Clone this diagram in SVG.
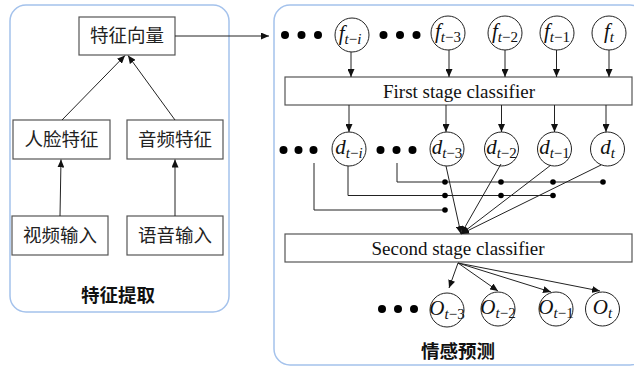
<svg xmlns="http://www.w3.org/2000/svg" width="634" height="368" viewBox="0 0 634 368">
  <defs>
    <marker id="arrow" markerUnits="userSpaceOnUse" markerWidth="9" markerHeight="7" refX="8" refY="3.5" orient="auto">
      <path d="M0,0 L8,3.5 L0,7 z" fill="#111"/>
    </marker>
  </defs>
  <style>
    .panel { fill: none; stroke: #a4c2ec; stroke-width: 1.5; }
    .box { fill: #fff; stroke: #555; stroke-width: 1.2; }
    .node { fill: #fff; stroke: #222; stroke-width: 1; }
    .cn { font-family: "Noto Sans CJK SC", sans-serif; font-size: 18.5px; fill: #222; text-anchor: middle; }
    .title { font-family: "Noto Sans CJK SC", sans-serif; font-size: 18.5px; font-weight: bold; fill: #111; text-anchor: middle; }
    .en { font-family: "Liberation Serif", serif; font-size: 19px; fill: #111; text-anchor: middle; }
    .var { font-family: "Liberation Serif", serif; font-size: 21px; font-style: italic; fill: #111; text-anchor: middle; }
    .sub { font-size: 15px; }
    .up { font-style: normal; }
    .line { fill: none; stroke: #222; stroke-width: 1; }
    .arr { fill: none; stroke: #222; stroke-width: 1; marker-end: url(#arrow); }
    .dot { fill: #000; }
    .jn { fill: #000; }
  </style>

  <!-- panels -->
  <rect class="panel" x="10" y="5" width="219" height="307" rx="16"/>
  <rect class="panel" x="274" y="5" width="372" height="360" rx="16"/>

  <!-- feature extraction side -->
  <g id="feature-vector">
    <rect class="box" x="79" y="17" width="96" height="38"/>
    <text class="cn" x="127" y="42">特征向量</text>
  </g>
  <g id="face-feature">
    <rect class="box" x="13" y="120" width="97" height="39"/>
    <text class="cn" x="61.5" y="146">人脸特征</text>
  </g>
  <g id="audio-feature">
    <rect class="box" x="127" y="120" width="96" height="39"/>
    <text class="cn" x="175" y="146">音频特征</text>
  </g>
  <g id="video-input">
    <rect class="box" x="12" y="216" width="96" height="39"/>
    <text class="cn" x="60" y="242">视频输入</text>
  </g>
  <g id="speech-input">
    <rect class="box" x="127" y="216" width="96" height="39"/>
    <text class="cn" x="175" y="242">语音输入</text>
  </g>
  <text class="title" x="118" y="302">特征提取</text>

  <!-- classifier side -->
  <g id="first-classifier">
    <rect class="box" x="285" y="77" width="347" height="28"/>
    <text class="en" x="459" y="97.5">First stage classifier</text>
  </g>
  <g id="second-classifier">
    <rect class="box" x="285" y="234" width="347" height="28"/>
    <text class="en" x="458" y="254.5">Second stage classifier</text>
  </g>

  <!-- input features f -->
  <g id="f-t-i">
    <circle class="node" cx="352" cy="35" r="17"/>
    <text class="var" x="350" y="40">f<tspan class="sub" dy="4">t<tspan class="up">−</tspan>i</tspan></text>
  </g>
  <g id="f-t-3">
    <circle class="node" cx="448" cy="33" r="17"/>
    <text class="var" x="448" y="38">f<tspan class="sub" dy="4">t<tspan class="up">−3</tspan></tspan></text>
  </g>
  <g id="f-t-2">
    <circle class="node" cx="505" cy="33" r="17"/>
    <text class="var" x="505" y="38">f<tspan class="sub" dy="4">t<tspan class="up">−2</tspan></tspan></text>
  </g>
  <g id="f-t-1">
    <circle class="node" cx="557" cy="33" r="17"/>
    <text class="var" x="557" y="38">f<tspan class="sub" dy="4">t<tspan class="up">−1</tspan></tspan></text>
  </g>
  <g id="f-t">
    <circle class="node" cx="609" cy="33" r="17"/>
    <text class="var" x="609" y="38">f<tspan class="sub" dy="4">t</tspan></text>
  </g>

  <!-- first-stage decisions d -->
  <g id="d-t-i">
    <circle class="node" cx="349" cy="149" r="17"/>
    <text class="var" x="349" y="154">d<tspan class="sub" dy="4">t<tspan class="up">−</tspan>i</tspan></text>
  </g>
  <g id="d-t-3">
    <circle class="node" cx="447" cy="149" r="17"/>
    <text class="var" x="447" y="154">d<tspan class="sub" dy="4">t<tspan class="up">−3</tspan></tspan></text>
  </g>
  <g id="d-t-2">
    <circle class="node" cx="501.5" cy="149" r="17"/>
    <text class="var" x="501.5" y="154">d<tspan class="sub" dy="4">t<tspan class="up">−2</tspan></tspan></text>
  </g>
  <g id="d-t-1">
    <circle class="node" cx="554.5" cy="149" r="17"/>
    <text class="var" x="554.5" y="154">d<tspan class="sub" dy="4">t<tspan class="up">−1</tspan></tspan></text>
  </g>
  <g id="d-t">
    <circle class="node" cx="607.5" cy="149" r="17"/>
    <text class="var" x="607.5" y="154">d<tspan class="sub" dy="4">t</tspan></text>
  </g>

  <!-- outputs O -->
  <g id="o-t-3">
    <circle class="node" cx="447" cy="310" r="17"/>
    <text class="var" x="447" y="315">O<tspan class="sub" dy="4">t<tspan class="up">−3</tspan></tspan></text>
  </g>
  <g id="o-t-2">
    <circle class="node" cx="498" cy="309" r="17"/>
    <text class="var" x="498" y="314">O<tspan class="sub" dy="4">t<tspan class="up">−2</tspan></tspan></text>
  </g>
  <g id="o-t-1">
    <circle class="node" cx="556" cy="309" r="17"/>
    <text class="var" x="556" y="314">O<tspan class="sub" dy="4">t<tspan class="up">−1</tspan></tspan></text>
  </g>
  <g id="o-t">
    <circle class="node" cx="602.5" cy="309" r="17"/>
    <text class="var" x="602.5" y="314">O<tspan class="sub" dy="4">t</tspan></text>
  </g>

  <!-- ellipsis dots -->
  <g id="ellipses">
    <circle class="dot" cx="285" cy="35" r="4"/>
    <circle class="dot" cx="301.5" cy="35" r="4"/>
    <circle class="dot" cx="318" cy="35" r="4"/>
    <circle class="dot" cx="383.5" cy="35" r="4"/>
    <circle class="dot" cx="400" cy="35" r="4"/>
    <circle class="dot" cx="416.5" cy="35" r="4"/>

    <circle class="dot" cx="283.5" cy="150" r="4"/>
    <circle class="dot" cx="298.5" cy="150" r="4"/>
    <circle class="dot" cx="313.5" cy="150" r="4"/>
    <circle class="dot" cx="380.5" cy="150" r="4"/>
    <circle class="dot" cx="396.5" cy="150" r="4"/>
    <circle class="dot" cx="412.5" cy="150" r="4"/>

    <circle class="dot" cx="382" cy="309" r="4"/>
    <circle class="dot" cx="398" cy="309" r="4"/>
    <circle class="dot" cx="414" cy="309" r="4"/>
  </g>

  <!-- connectors -->
  <g id="connectors">
    <!-- feature extraction -->
    <line class="arr" x1="60" y1="216" x2="61" y2="159.5"/>
    <line class="arr" x1="175" y1="216" x2="175" y2="159.5"/>
    <line class="arr" x1="62" y1="120" x2="125" y2="55.5"/>
    <line class="arr" x1="175" y1="120" x2="128" y2="55.5"/>
    <line class="arr" x1="175" y1="36" x2="269" y2="36"/>

    <!-- f to first classifier -->
    <line class="arr" x1="351" y1="52" x2="351" y2="77"/>
    <line class="arr" x1="449" y1="50" x2="449" y2="77"/>
    <line class="arr" x1="505" y1="50" x2="505" y2="77"/>
    <line class="arr" x1="556.5" y1="50" x2="556.5" y2="77"/>
    <line class="arr" x1="609" y1="50" x2="609" y2="77"/>

    <!-- first classifier to d -->
    <line class="arr" x1="349" y1="105" x2="349" y2="132"/>
    <line class="arr" x1="446" y1="105" x2="446" y2="132"/>
    <line class="arr" x1="501.5" y1="105" x2="501.5" y2="132"/>
    <line class="arr" x1="554.5" y1="105" x2="554.5" y2="132"/>
    <line class="arr" x1="606" y1="105" x2="606" y2="132"/>

    <!-- delayed decision buses -->
    <polyline class="line" points="397,163 397,182 603,182"/>
    <polyline class="line" points="348,166 348,195.5 553,195.5"/>
    <polyline class="line" points="314,163 314,210 445,210"/>
    <circle class="jn" cx="445" cy="182" r="2.8"/>
    <circle class="jn" cx="501" cy="182" r="2.8"/>
    <circle class="jn" cx="553" cy="182" r="2.8"/>
    <circle class="jn" cx="603" cy="182" r="2.8"/>
    <circle class="jn" cx="445" cy="195.5" r="2.8"/>
    <circle class="jn" cx="501" cy="195.5" r="2.8"/>
    <circle class="jn" cx="553" cy="195.5" r="2.8"/>
    <circle class="jn" cx="445" cy="210" r="2.8"/>

    <!-- d to second classifier -->
    <line class="arr" x1="446" y1="166" x2="461" y2="234"/>
    <line class="arr" x1="501" y1="164" x2="461" y2="234"/>
    <line class="arr" x1="551" y1="165" x2="461" y2="234"/>
    <line class="arr" x1="601" y1="165" x2="461" y2="234"/>

    <!-- second classifier to outputs -->
    <line class="arr" x1="458" y1="263" x2="449" y2="288"/>
    <line class="arr" x1="458" y1="263" x2="498" y2="291"/>
    <line class="arr" x1="458" y1="263" x2="551" y2="292"/>
    <line class="arr" x1="458" y1="263" x2="600" y2="291"/>
  </g>

  <text class="title" x="458" y="358">情感预测</text>
</svg>
